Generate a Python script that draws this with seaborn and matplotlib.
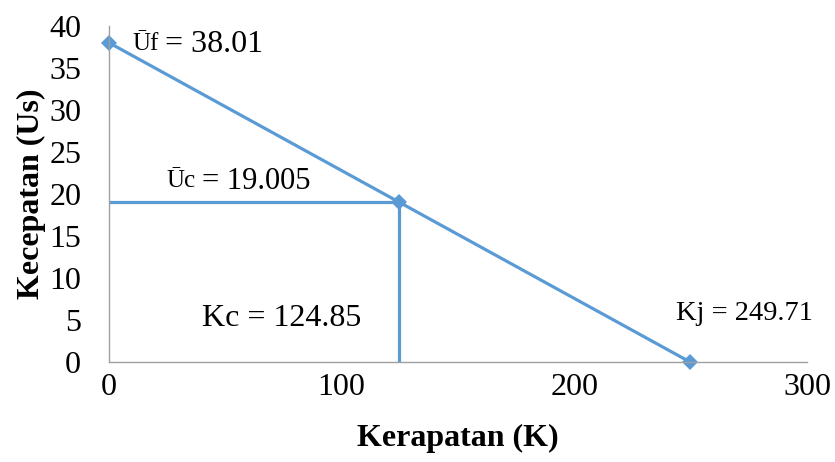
import pandas as pd
import seaborn as sns
import matplotlib.pyplot as plt

# Greenshields: Kerapatan vs Kecepatan
kerapatan = [0, 124.85, 249.71]
kecepatan = [38.01, 19.005, 0]
uf = 38.01
uc = 19.005
kc = 124.85
kj = 249.71

df = pd.DataFrame({'K': kerapatan, 'Us': kecepatan})

sns.set_style('white')
plt.rcParams['font.family'] = ['Liberation Serif', 'DejaVu Serif']
plt.rcParams['text.color'] = 'black'
plt.rcParams['axes.labelcolor'] = 'black'
plt.rcParams['xtick.color'] = 'black'
plt.rcParams['ytick.color'] = 'black'

warna = '#5B9BD5'

fig = plt.figure(figsize=(8.35, 4.62), dpi=100)
ax = fig.add_axes([0.1305, 0.2165, 0.836, 0.7272])

# garis bantu Uc dan Kc
ax.plot([0, kc], [uc, uc], color=warna, lw=2.3, solid_capstyle='butt')
ax.plot([kc, kc], [uc, 0], color=warna, lw=2.3, solid_capstyle='butt')

sns.lineplot(data=df, x='K', y='Us', color=warna, lw=2.3,
             marker='D', markersize=8.5, markeredgewidth=0, ax=ax, clip_on=False)

ax.set_xlim(0, 300)
ax.set_ylim(0, 40)
ax.set_xticks([0, 100, 200, 300])
ax.set_yticks(range(0, 41, 5))
ax.tick_params(labelsize=23, length=0)
ax.tick_params(axis='y', pad=20)
ax.tick_params(axis='x', pad=8)

for s in ['top', 'right']:
    ax.spines[s].set_visible(False)
for s in ['left', 'bottom']:
    ax.spines[s].set_color('#A0A0A0')
    ax.spines[s].set_linewidth(1)

ax.set_xlabel('Kerapatan (K)', fontsize=23, fontweight='bold', labelpad=16)
ax.set_ylabel('Kecepatan (Us)', fontsize=23, fontweight='bold', labelpad=2)

# label nilai (simbol sedikit lebih kecil)
ax.text(10.3, 37.8, 'Ūf', fontsize=18, va='center', ha='left')
ax.text(24.0, 37.8, f'= {uf}', fontsize=23, va='center', ha='left')
ax.text(24.9, 21.5, 'Ūc', fontsize=18, va='center', ha='left')
ax.text(40.0, 21.5, f'= {uc}', fontsize=22, va='center', ha='left')
ax.text(40, 5.2, f'Kc = {kc}', fontsize=23, va='center', ha='left')
ax.text(243.7, 5.8, f'Kj = {kj}', fontsize=20.5, va='center', ha='left')

plt.savefig('out.png', dpi=100)
